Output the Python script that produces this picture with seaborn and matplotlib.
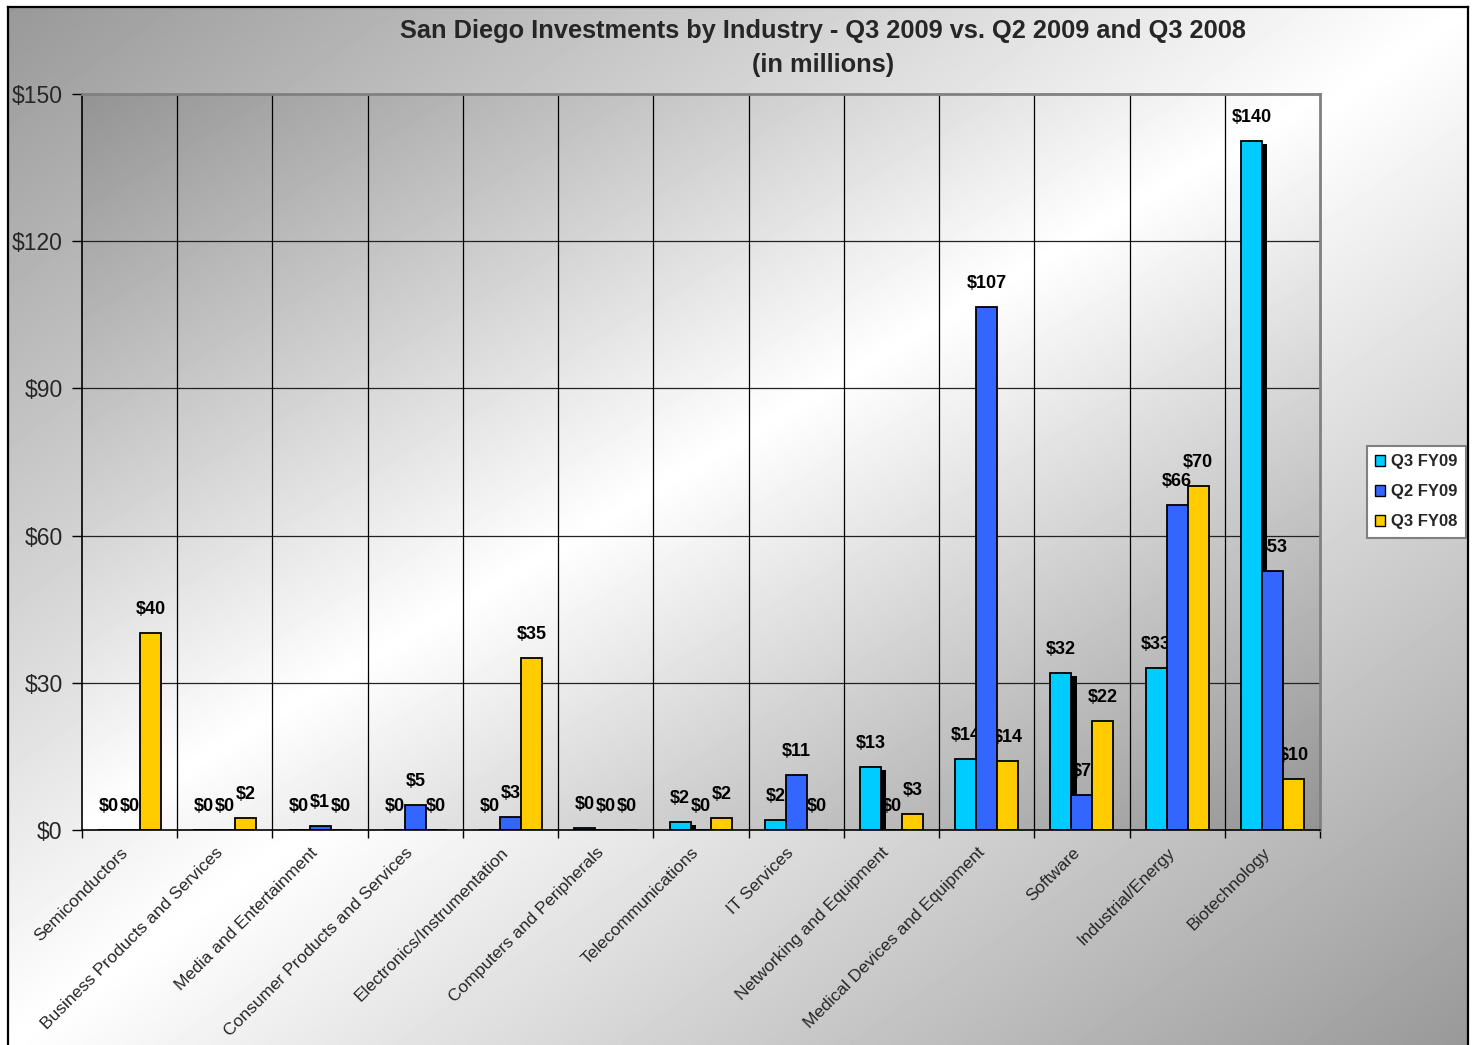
import numpy as np
import pandas as pd
import matplotlib
matplotlib.use("Agg")
import matplotlib.pyplot as plt
from matplotlib.patches import Patch
from matplotlib.transforms import ScaledTranslation
import seaborn as sns

industries = [
    "Semiconductors", "Business Products and Services", "Media and Entertainment",
    "Consumer Products and Services", "Electronics/Instrumentation",
    "Computers and Peripherals", "Telecommunications", "IT Services",
    "Networking and Equipment", "Medical Devices and Equipment", "Software",
    "Industrial/Energy", "Biotechnology",
]
periods = ["Q3 FY09", "Q2 FY09", "Q3 FY08"]
q3_fy09 = [0, 0, 0, 0, 0, 0.4, 1.6, 2.0, 12.8, 14.4, 32.0, 33.0, 140.4]
q2_fy09 = [0, 0, 0.8, 5.0, 2.6, 0, 0, 11.2, 0, 106.6, 7.1, 66.2, 52.8]
q3_fy08 = [40.1, 2.4, 0, 0, 35.0, 0, 2.4, 0, 3.3, 14.1, 22.2, 70.1, 10.4]
colors = ["#00CCFF", "#3366FF", "#FFCC00"]
y_ticks = [0, 30, 60, 90, 120, 150]

df = pd.DataFrame({
    "Industry": industries * 3,
    "Period": np.repeat(periods, len(industries)),
    "Value": q3_fy09 + q2_fy09 + q3_fy08,
})

sns.set_theme(style="white")
plt.rcParams["font.family"] = ["Liberation Sans", "DejaVu Sans"]

W, H = 1474, 1045
fig = plt.figure(figsize=(W / 100, H / 100), dpi=100)
fig.patch.set_facecolor("white")


def diag_gradient(nx, ny, dark, light):
    # dark in two opposite corners, light along the other diagonal
    xx, yy = np.meshgrid(np.linspace(0, 1, nx), np.linspace(0, 1, ny))
    t = (xx + yy) / 2
    return dark + (light - dark) * (1 - np.abs(2 * t - 1))


# framed gradient backdrop for the whole chart
bg = fig.add_axes([8 / W, 0, 1460 / W, 1 - 7 / H], zorder=-10)
bg.imshow(diag_gradient(200, 200, 0.60, 1.0), cmap="gray", vmin=0, vmax=1,
          aspect="auto", interpolation="bilinear", extent=(0, 1, 0, 1))
bg.set_xticks([])
bg.set_yticks([])
for side in ("top", "left", "right"):
    bg.spines[side].set_color("black")
    bg.spines[side].set_linewidth(1.6)
bg.spines["bottom"].set_visible(False)

ax = fig.add_axes([82 / W, 1 - 830 / H, (1320 - 82) / W, (830 - 94) / H])
ax.patch.set_alpha(0)

sns.barplot(data=df, x="Industry", y="Value", hue="Period", order=industries,
            hue_order=periods, palette=colors, saturation=1, width=0.66,
            edgecolor="black", linewidth=1.3, errorbar=None, legend=False,
            ax=ax, zorder=4)
series_bars = list(ax.containers)

n = len(industries)
ax.set_xlim(-0.5, n - 0.5)
ax.set_ylim(0, 150)

# plot-area gradient
ax.imshow(diag_gradient(200, 200, 0.58, 1.0), cmap="gray", vmin=0, vmax=1,
          aspect="auto", interpolation="bilinear",
          extent=(-0.5, n - 0.5, 0, 150), origin="upper", zorder=0)

# grid: horizontal at value ticks, vertical between categories
for y in y_ticks[1:-1]:
    ax.axhline(y, color="#222222", linewidth=0.9, zorder=1)
for b in np.arange(0.5, n - 0.5, 1):
    ax.axvline(b, color="black", linewidth=0.9, zorder=1)

# value labels
for cont in series_bars:
    for bar in cont:
        v = bar.get_height()
        ax.annotate(f"${v:.0f}", (bar.get_x() + bar.get_width() / 2, v),
                    xytext=(0, 17), textcoords="offset points",
                    ha="center", va="center", fontsize=13, fontweight="bold",
                    color="black", zorder=3)

# drop shadow behind the Q3 FY09 bars
sx = 0.055
sy = 0.6
for bar in series_bars[0]:
    h = bar.get_height()
    if h > 0:
        ax.bar(bar.get_x() + sx, max(h - sy, 0), width=bar.get_width(),
               align="edge", color="black", linewidth=0, zorder=3.5)

ax.set_yticks(y_ticks)
ax.set_yticklabels([f"${t}" for t in y_ticks], fontsize=16.5)
ax.tick_params(axis="y", direction="out", length=7, width=1, color="black",
               left=True, pad=7)
ax.set_xticks(range(n))
ax.set_xticklabels(industries, rotation=45, ha="right", va="top",
                   rotation_mode="anchor", fontsize=12.5)
ax.tick_params(axis="x", which="major", length=0, pad=10)
shift = ScaledTranslation(-10 / 100, -1 / 100, fig.dpi_scale_trans)
for lbl in ax.get_xticklabels():
    lbl.set_transform(lbl.get_transform() + shift)
ax.set_xticks(np.arange(-0.5, n, 1), minor=True)
ax.tick_params(axis="x", which="minor", direction="out", length=6, width=1,
               color="black", bottom=True)
ax.set_xlabel("")
ax.set_ylabel("")

ax.spines["left"].set_color("black")
ax.spines["bottom"].set_color("black")
ax.spines["left"].set_linewidth(1.2)
ax.spines["bottom"].set_linewidth(1.2)
for side in ("top", "right"):
    ax.spines[side].set_color("#808080")
    ax.spines[side].set_linewidth(2)
for s in ax.spines.values():
    s.set_zorder(5)

fig.text(823 / W, 1 - 31 / H,
         "San Diego Investments by Industry - Q3 2009 vs. Q2 2009 and Q3 2008",
         ha="center", va="center", fontsize=18.3, fontweight="bold")
fig.text(823 / W, 1 - 65 / H, "(in millions)",
         ha="center", va="center", fontsize=18.3, fontweight="bold")

handles = [Patch(facecolor=c, edgecolor="black", linewidth=1) for c in colors]
leg = fig.legend(handles, periods, loc="upper left",
                 bbox_to_anchor=(1367 / W, 1 - 446 / H),
                 prop={"size": 12, "weight": "bold"}, frameon=True,
                 fancybox=False, edgecolor="#808080", facecolor="white",
                 framealpha=1, handlelength=0.6, handleheight=0.6,
                 handletextpad=0.35, labelspacing=0.9, borderpad=0.5,
                 borderaxespad=0)
leg.get_frame().set_linewidth(1.5)

fig.savefig("out.png", dpi=100)
